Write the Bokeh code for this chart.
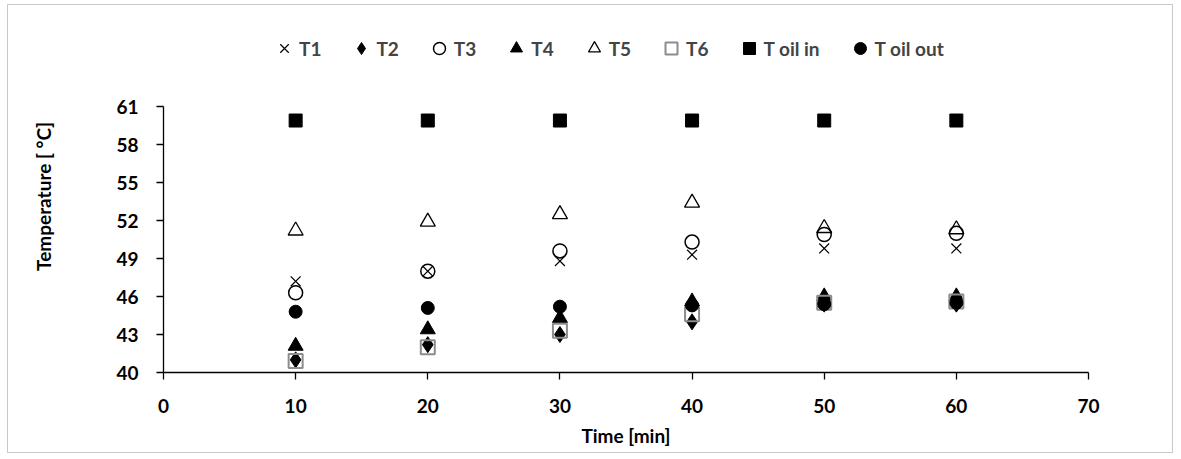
from bokeh.plotting import figure
from bokeh.models import Legend, LegendItem, FixedTicker, Range1d
from bokeh.embed import file_html
from bokeh.resources import INLINE

time_min = [10, 20, 30, 40, 50, 60]
t1 = [47.2, 48.0, 48.8, 49.3, 49.8, 49.8]
t2 = [41.0, 42.2, 43.0, 44.0, 45.4, 45.4]
t3 = [46.3, 48.0, 49.6, 50.3, 50.9, 51.0]
t4 = [42.1, 43.4, 44.3, 45.6, 46.0, 46.0]
t5 = [51.2, 51.9, 52.5, 53.4, 51.4, 51.3]
t6 = [40.9, 42.0, 43.3, 44.6, 45.5, 45.6]
t_oil_in = [59.9, 59.9, 59.9, 59.9, 59.9, 59.9]
t_oil_out = [44.8, 45.1, 45.2, 45.3, 45.4, 45.5]

x_ticks = [0, 10, 20, 30, 40, 50, 60, 70]
y_ticks = [40, 43, 46, 49, 52, 55, 58, 61]

FONT = "Lato"

# the frame reaches above 61 so the legend can sit inside it;
# the y axis line itself stops at 61
p = figure(width=1166, height=449, output_backend="svg", toolbar_location=None,
           x_range=Range1d(0, 70), y_range=Range1d(40, 67.8),
           min_border_left=155, min_border_right=86,
           min_border_top=15, min_border_bottom=82)
p.styles = {"border": "1px solid #c8c8c8", "margin-left": "7px", "margin-top": "4px"}
p.outline_line_color = None
p.xgrid.visible = False
p.ygrid.visible = False
p.background_fill_color = "white"
p.border_fill_color = "white"

for ax in (p.xaxis[0], p.yaxis[0]):
    ax.axis_line_color = "black"
    ax.axis_line_width = 1.3
    ax.major_tick_line_color = "black"
    ax.major_tick_line_width = 1.3
    ax.major_tick_out = 7
    ax.major_tick_in = 0
    ax.minor_tick_line_color = None
    ax.major_label_text_font = FONT
    ax.major_label_text_font_style = "bold"
    ax.major_label_text_font_size = "19px"
    ax.major_label_text_color = "black"
    ax.axis_label_text_font = FONT
    ax.axis_label_text_font_style = "bold"
    ax.axis_label_text_font_size = "19px"
    ax.axis_label_text_color = "black"

p.xaxis.ticker = FixedTicker(ticks=x_ticks)
p.yaxis.ticker = FixedTicker(ticks=y_ticks)
p.yaxis.bounds = (40, 61)
p.xaxis.axis_label = "Time [min]"
p.yaxis.axis_label = "Temperature [ °C]"
p.xaxis.major_label_standoff = 19
p.yaxis.major_label_standoff = 18
p.xaxis.axis_label_standoff = 8
p.yaxis.axis_label_standoff = 58

r1 = p.scatter(time_min, t1, marker="x", size=14, line_color="black", line_width=1.2)
r2 = p.scatter(time_min, t2, marker="diamond", size=16, fill_color="black", line_color="black")
r3 = p.scatter(time_min, t3, marker="circle", size=14, fill_alpha=0, line_color="black", line_width=1.5)
r4 = p.scatter(time_min, t4, marker="triangle", size=15, fill_color="black", line_color="black")
r5 = p.scatter(time_min, t5, marker="triangle", size=15, fill_alpha=0, line_color="black", line_width=1.3)
r6 = p.scatter(time_min, t6, marker="square", size=14, fill_alpha=0, line_color="#8c8c8c", line_width=2)
r7 = p.scatter(time_min, t_oil_in, marker="square", size=13, fill_color="black", line_color="black")
r8 = p.scatter(time_min, t_oil_out, marker="circle", size=13, fill_color="black", line_color="black")

legend = Legend(items=[
    LegendItem(label="T1", renderers=[r1]),
    LegendItem(label="T2", renderers=[r2]),
    LegendItem(label="T3", renderers=[r3]),
    LegendItem(label="T4", renderers=[r4]),
    LegendItem(label="T5", renderers=[r5]),
    LegendItem(label="T6", renderers=[r6]),
    LegendItem(label="T oil in", renderers=[r7]),
    LegendItem(label="T oil out", renderers=[r8]),
], orientation="horizontal", location=(106, 309))
legend.label_text_font = FONT
legend.label_text_font_style = "bold"
legend.label_text_font_size = "19px"
legend.label_standoff = 0
legend.glyph_width = 30
legend.glyph_height = 30
legend.spacing = 25
legend.padding = 1
legend.margin = 0
legend.border_line_color = None
legend.background_fill_alpha = 0
p.add_layout(legend, "center")

open("out.html", "w").write(file_html(p, INLINE))
